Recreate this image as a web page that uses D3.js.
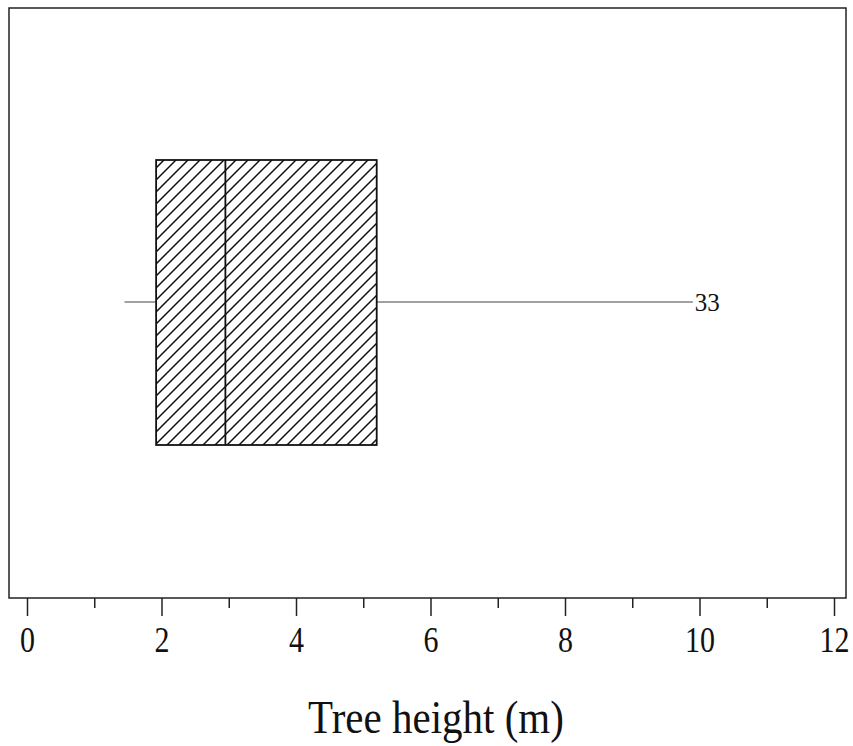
<!DOCTYPE html>
<html>
<head>
<meta charset="utf-8">
<script src="https://cdn.jsdelivr.net/npm/d3@7"></script>
<style>
  body { margin: 0; background: #fff; }
  text { font-family: "Liberation Serif", "DejaVu Serif", serif; fill: #111; }
</style>
</head>
<body>
<script>
// box plot summary of tree height (m)
const whiskerLow = 1.45
const q1 = 1.92
const median = 2.95
const q3 = 5.2
const whiskerHigh = 9.9
const extremeLabel = "33"
const tickValues = [0,1,2,3,4,5,6,7,8,9,10,11,12]
const axisTitle = "Tree height (m)"

const width = 853, height = 746
const frame = {left: 9, right: 846, top: 8, bottom: 598}

let svg = d3.select("body").append("svg")
	.attr("width", width)
	.attr("height", height)

svg.append("defs").append("pattern")
	.attr("id", "hatch")
	.attr("patternUnits", "userSpaceOnUse")
	.attr("width", 12)
	.attr("height", 12)
  .append("path")
	.attr("d", "M-3 3L3 -3M0 12L12 0M9 15L15 9")
	.attr("stroke", "#111")
	.attr("stroke-width", 1.5)

let x = d3.scaleLinear()
	.domain([0, 12])
	.range([27, 834])

let yMid = 302, boxTop = 160, boxBottom = 445

// frame
svg.append("rect")
	.attr("x", frame.left)
	.attr("y", frame.top)
	.attr("width", frame.right - frame.left)
	.attr("height", frame.bottom - frame.top)
	.attr("fill", "none")
	.attr("stroke", "#222")
	.attr("stroke-width", 1.5)

// whiskers
svg.append("line")
	.attr("x1", x(whiskerLow)).attr("x2", x(q1))
	.attr("y1", yMid).attr("y2", yMid)
	.attr("stroke", "#444").attr("stroke-width", 1.2)
svg.append("line")
	.attr("x1", x(q3)).attr("x2", x(whiskerHigh))
	.attr("y1", yMid).attr("y2", yMid)
	.attr("stroke", "#444").attr("stroke-width", 1.2)

// box
svg.append("rect")
	.attr("x", x(q1))
	.attr("y", boxTop)
	.attr("width", x(q3) - x(q1))
	.attr("height", boxBottom - boxTop)
	.attr("fill", "url(#hatch)")
	.attr("stroke", "#111")
	.attr("stroke-width", 1.8)

svg.append("line")
	.attr("x1", x(median)).attr("x2", x(median))
	.attr("y1", boxTop).attr("y2", boxBottom)
	.attr("stroke", "#111").attr("stroke-width", 1.8)

svg.append("text")
	.attr("x", x(whiskerHigh) + 2)
	.attr("y", yMid + 9)
	.attr("font-size", 25)
	.text(extremeLabel)

// axis
let axis = d3.axisBottom(x)
	.tickValues(tickValues)
	.tickSize(18)
	.tickFormat(d => d % 2 == 0 ? d : "")

let gAxis = svg.append("g")
	.attr("transform", `translate(0,${frame.bottom})`)
	.call(axis)

gAxis.select(".domain").remove()
gAxis.selectAll(".tick line")
	.attr("stroke", "#222")
	.attr("stroke-width", 1.5)
	.attr("y2", d => d % 2 == 0 ? 18 : 10)
gAxis.selectAll(".tick text")
	.attr("font-size", 30)
	.attr("font-family", "Liberation Serif")
	.attr("fill", "#111")
	.attr("dy", null)
	.attr("y", 0)
	.attr("transform", "translate(0,54) scale(1,1.2)")

svg.append("text")
	.attr("text-anchor", "middle")
	.attr("font-size", 41)
	.attr("transform", "translate(436,733) scale(1,1.12)")
	.text(axisTitle)
</script>
</body>
</html>
